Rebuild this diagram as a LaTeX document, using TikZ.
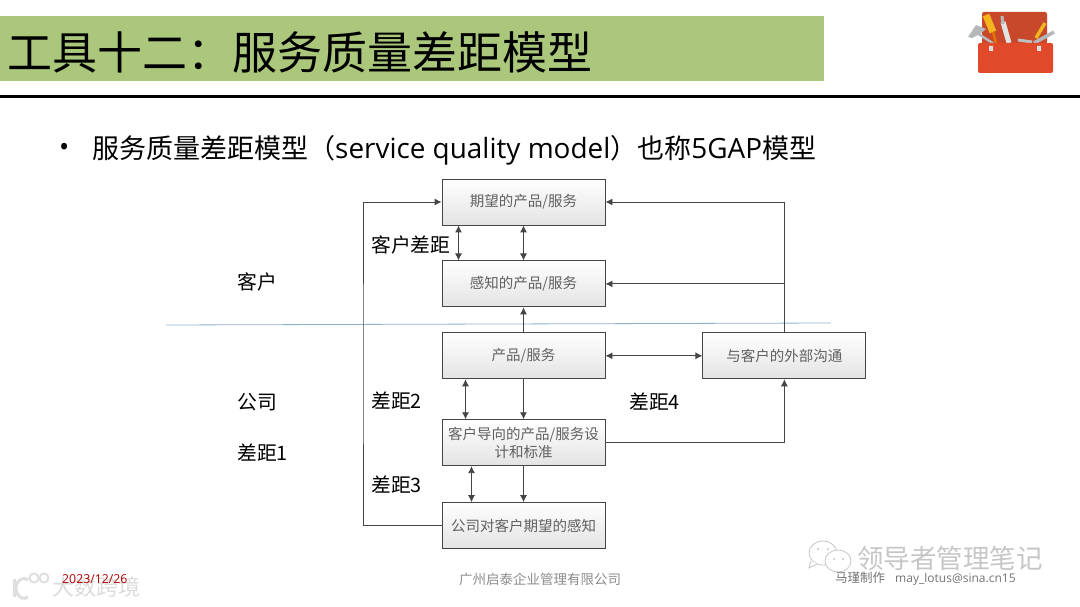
\documentclass[tikz,border=0pt]{standalone}
\usepackage{fontspec}
\setmainfont{Noto Sans CJK SC}
\newfontfamily\latinfont{Open Sans}
\usetikzlibrary{arrows.meta,positioning}
\definecolor{Band}{HTML}{AAC77B}
\definecolor{Wire}{HTML}{454545}
\definecolor{Sep}{HTML}{8FB0CC}
\definecolor{Chest}{HTML}{E0492A}
\definecolor{ChestDark}{HTML}{C8482C}
\definecolor{Steel}{HTML}{B4B8BA}
\definecolor{Grip}{HTML}{F2B51E}
\newcommand{\sz}[1]{\fontsize{#1}{#1}\selectfont}
\newcommand{\wcolon}{\symbol{"FF1A}}
\newcommand{\wopen}{\symbol{"FF08}}
\newcommand{\wclose}{\symbol{"FF09}}
\begin{document}
\begin{tikzpicture}[x=1pt,y=-1pt,node distance=35pt and 97pt,
 box/.style={draw=Wire,line width=.9pt,top color=white,bottom color=gray!22,align=center,inner sep=0pt,
   minimum width=163pt,minimum height=46pt,text=gray!75!black,font=\sz{14.5}\linespread{1.25}\selectfont},
 arrow/.style={-{Latex[length=7pt,width=7pt]},line width=.9pt,draw=Wire},
 both/.style={{Latex[length=7pt,width=7pt]}-{Latex[length=7pt,width=7pt]},line width=.9pt,draw=Wire},
 tag/.style={anchor=west,inner sep=0pt,font=\sz{19.8}},
 foot/.style={anchor=west,inner sep=0pt,font=\sz{13.5}}]
\useasboundingbox (0,0) rectangle (1080,607);
% header
\fill[Band] (0,16) rectangle (824,81);
\node[anchor=west,inner sep=0pt,font=\sz{45}] (title) at (7,52) {工具十二\wcolon 服务质量差距模型};
\draw[line width=3pt] (0,97) -- (1080,97);
\node[anchor=west,inner sep=0pt,font=\latinfont\sz{27}] (bullet) at (59,150) {•};
\node[anchor=west,inner sep=0pt,font=\sz{27}] (head) at (92,150) {服务质量差距模型\wopen{\latinfont\sz{27.9}service quality model}\wclose 也称{\latinfont\sz{27.9}5GAP}模型};
% toolbox
\fill[ChestDark,rounded corners=2pt] (982,12) rectangle (1047,44);
\draw[line width=2.5pt,Steel] (977,33) -- (994,44);
\fill[Steel] (968,37) -- (976,25) -- (986,29) -- (980,34) -- (972,38) -- cycle;
\draw[line width=7pt,Grip] (986,15) -- (993,32);
\draw[line width=2.5pt,orange!90!black] (993,32) -- (996,43);
\draw[line width=5pt,gray!22] (1003,22) -- (1009,43);
\draw[line width=3pt,Steel] (1002,16) -- (1003,24);
\draw[line width=3.5pt,Grip] (1045,23) -- (1036,38);
\draw[line width=3.5pt,Steel] (1054,32) -- (1034,43);
\draw[line width=3pt,gray!50] (1018,40) -- (1032,42);
\fill[Chest,rounded corners=2pt] (978,43) rectangle (1053,73);
\fill[gray!25] (989,46) rectangle (993,51) (1037,46) rectangle (1041,51);
% boxes
\node[box] (expect) at (523.5,202) {期望的产品/服务};
\node[box,below=35pt of expect] (sensed) {感知的产品/服务};
\node[box,below=25pt of sensed] (product) {产品/服务};
\node[box,right=of product] (comm) {与客户的外部沟通};
\node[box,below=40pt of product] (design) {客户导向的产品/服务设\\计和标准};
\node[box,below=36pt of design] (aware) {公司对客户期望的感知};
\coordinate (rail) at (363,364);
\coordinate (sepl) at (166,325);
\coordinate (sepr) at (831,323);
\draw[Sep,line width=.8pt] (sepl) -- (sepr);
% connectors
\draw[arrow] (aware.west) -| (rail) |- (expect.west);
\draw[both] ([xshift=-65pt]expect.south) -- ([xshift=-65pt]sensed.north);
\draw[both] (expect.south) -- (sensed.north);
\draw[arrow] (product.north) -- (sensed.south);
\draw[both] (product.east) -- (comm.west);
\draw[arrow] (comm.north) |- (expect.east);
\draw[arrow] (comm.north) |- (sensed.east);
\draw[both] ([xshift=-58pt]product.south) -- ([xshift=-58pt]design.north);
\draw[arrow] (product.south) -- (design.north);
\draw[arrow] (design.east) -| (comm.south);
\draw[both] ([xshift=-52pt]design.south) -- ([xshift=-52pt]aware.north);
\draw[arrow] (design.south) -- (aware.north);
% labels
\node[tag] (gapc) at (371,245) {客户差距};
\node[tag] (cust) at (237,282) {客户};
\node[tag] (comp) at (237,402) {公司};
\node[tag] (gapa) at (237,453) {差距1};
\node[tag] (gapb) at (371,401) {差距2};
\node[tag] (gapd) at (371,485) {差距3};
\node[tag] (gape) at (629,402) {差距4};
% watermarks
\begin{scope}[gray!45,line width=.8pt]
\draw[fill=white] (823,553) ellipse (14 and 12);
\draw[fill=white] (811,561) -- (809,568) -- (817,564);
\draw[fill=white] (838,561) ellipse (13 and 11);
\fill (818,549) circle (1.2) (828,549) circle (1.2) (834,559) circle (1.2) (843,559) circle (1.2);
\end{scope}
\node[anchor=west,inner sep=0pt,font=\sz{26.5},text=gray!45] (mark) at (857,558) {领导者管理笔记};
\begin{scope}[gray!25,line width=3pt]
\draw (14,579) -- (14,597);
\draw (28,597) arc (60:300:8 and 10);
\draw[line width=2pt] (34,578) circle (4.5);
\draw[line width=2pt] (44,578) circle (4.5);
\end{scope}
\node[anchor=west,inner sep=0pt,font=\sz{22},text=gray!28] (cross) at (52,587) {大数跨境};
% footer
\node[foot,text=red!70!black,font=\latinfont\sz{12.3}] (date) at (62,579) {2023/12/26};
\node[foot,text=gray!90] (firm) at (459,579) {广州启泰企业管理有限公司};
\node[foot,text=gray!90!black] (maker) at (835,579) {\sz{12.5}马瑾制作\hspace{10pt}{\latinfont\sz{12}may\_lotus@sina.cn15}};
\end{tikzpicture}
\end{document}
